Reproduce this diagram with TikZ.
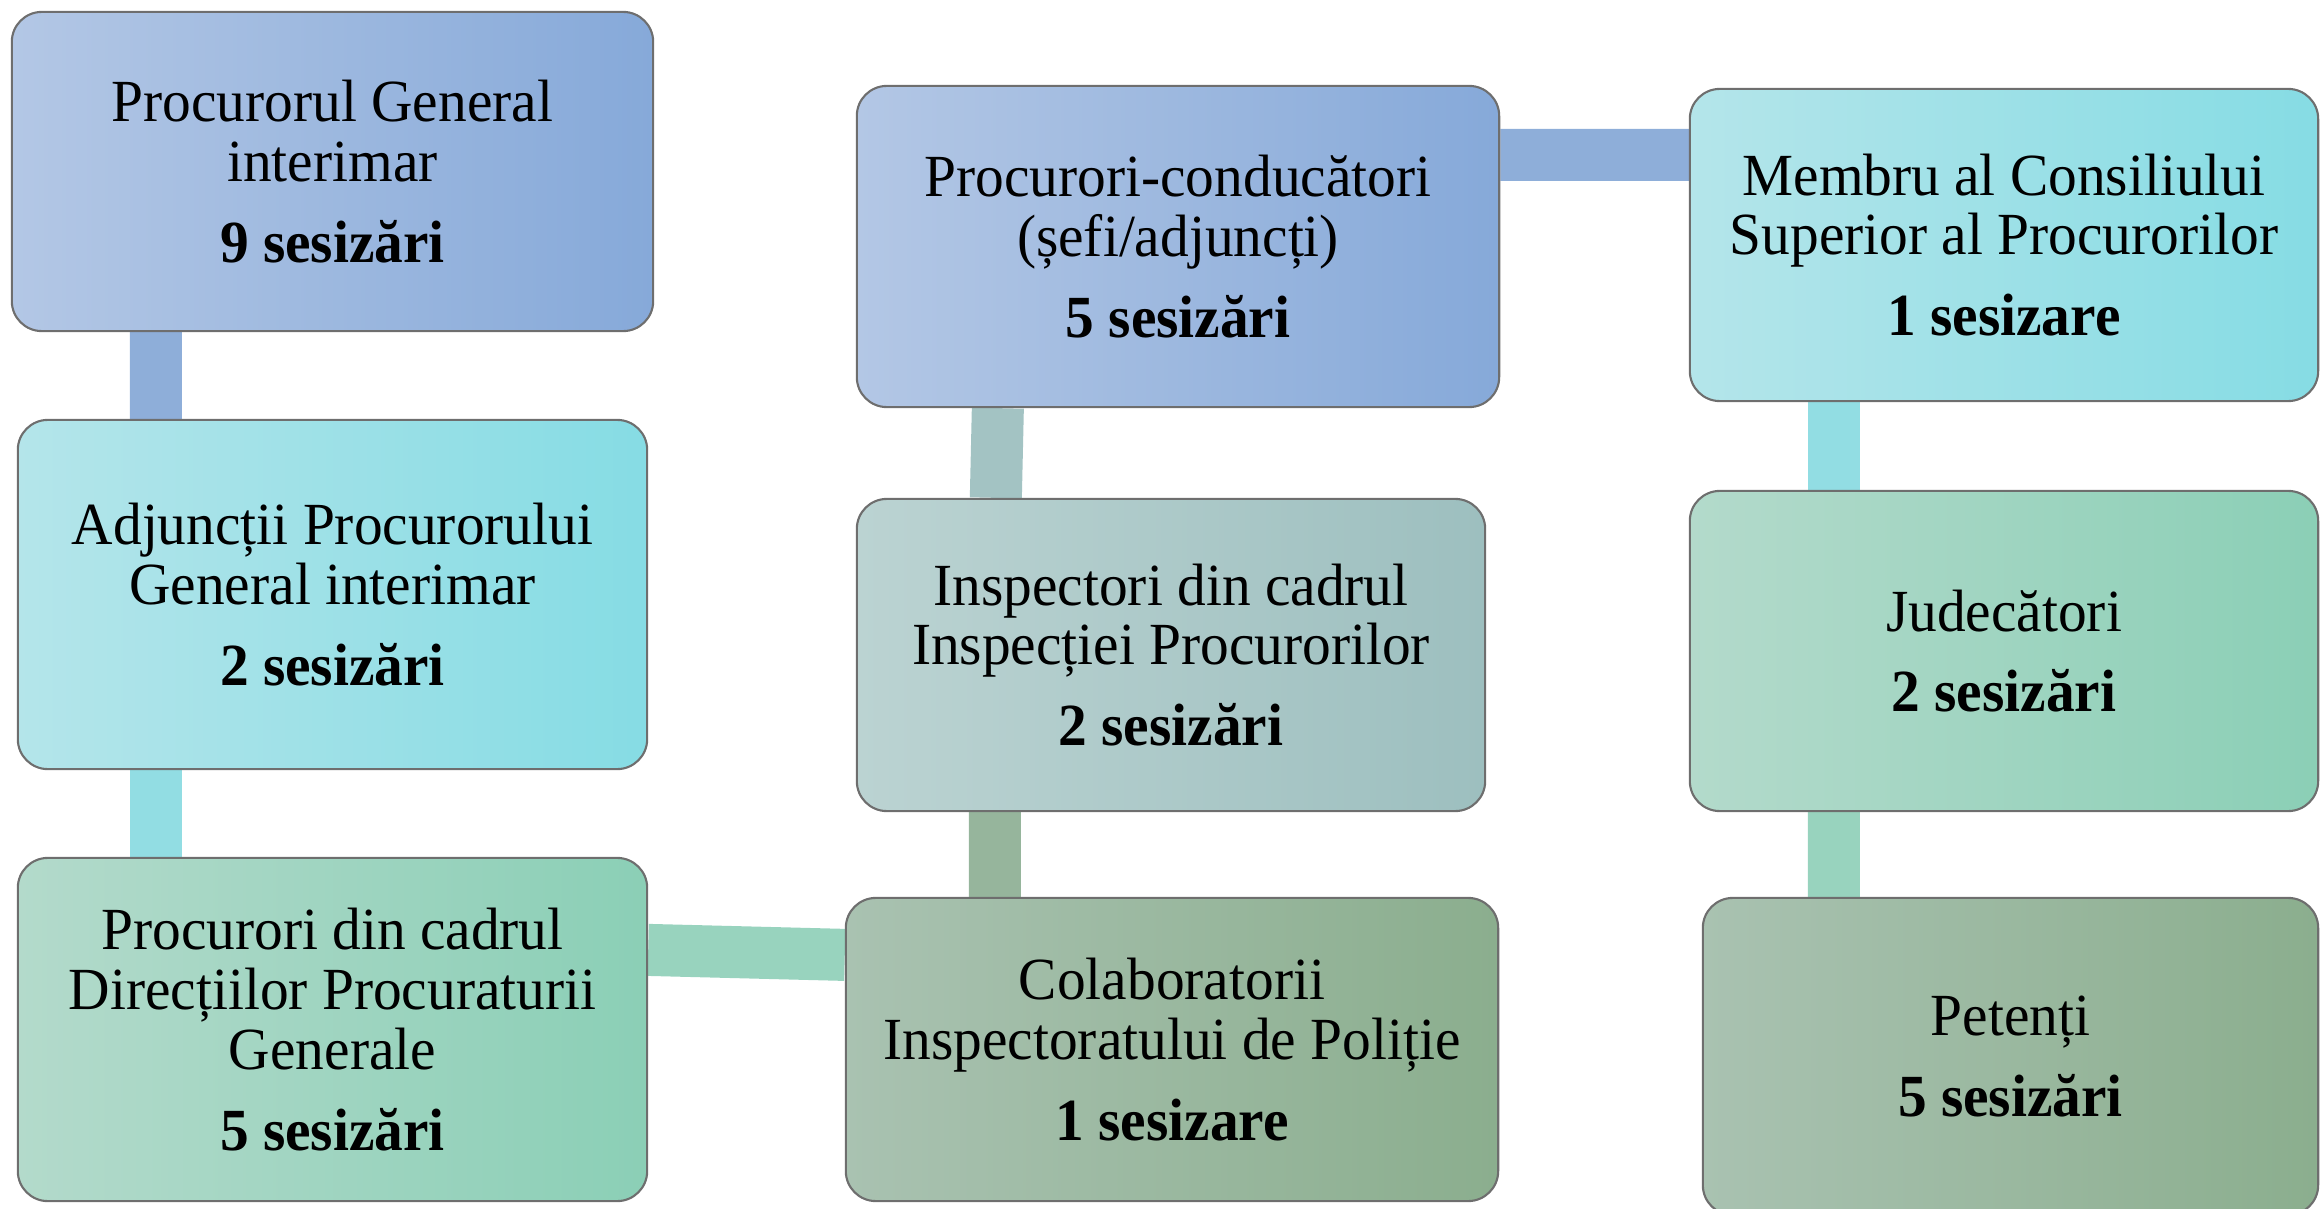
\documentclass[tikz,border=0pt]{standalone}
\usepackage{fontspec}
\setmainfont{Liberation Serif}[FakeStretch=0.96]
\usetikzlibrary{backgrounds}
\definecolor{blueL}{HTML}{B3C7E5}\definecolor{blueD}{HTML}{86A9D9}
\definecolor{cyanL}{HTML}{B4E5EA}\definecolor{cyanD}{HTML}{86DCE4}
\definecolor{mintL}{HTML}{B3DACB}\definecolor{mintD}{HTML}{8BCFB6}
\definecolor{tealL}{HTML}{BBD3D2}\definecolor{tealD}{HTML}{9DBFBF}
\definecolor{sageL}{HTML}{A9C2B1}\definecolor{sageD}{HTML}{8BAE8E}
\definecolor{cBlue}{HTML}{8EAED9}\definecolor{cCyan}{HTML}{92DDE3}
\definecolor{cMint}{HTML}{98D3BE}\definecolor{cTeal}{HTML}{A3C3C3}
\definecolor{cSage}{HTML}{96B59C}\definecolor{edgeC}{HTML}{6E6E6E}
\tikzset{
  card/.style={draw=edgeC, line width=0.6pt, rounded corners=0.3cm, align=center,
    inner sep=0pt, font=\fontsize{17pt}{17pt}\selectfont},
  cblue/.style={card, left color=blueL, right color=blueD},
  ccyan/.style={card, left color=cyanL, right color=cyanD},
  cmint/.style={card, left color=mintL, right color=mintD},
  cteal/.style={card, left color=tealL, right color=tealD},
  csage/.style={card, left color=sageL, right color=sageD},
  bar/.style={line width=0.52cm}
}
\begin{document}
\begin{tikzpicture}[x=0.01cm,y=-0.01cm]
\useasboundingbox (0,0) rectangle (2320,1209);
% boxes
\node[cblue, minimum width=6.41cm, minimum height=3.19cm] (b1) at (332.5,171.5)
  {Procurorul General\\ interimar\\[6pt] \textbf{9 sesizări}};
\node[ccyan, minimum width=6.29cm, minimum height=3.49cm] (b2) at (332.5,594.5)
  {Adjuncții Procurorului\\ General interimar\\[6pt] \textbf{2 sesizări}};
\node[cmint, minimum width=6.29cm, minimum height=3.43cm] (b3) at (332.5,1029.5)
  {Procurori din cadrul\\ Direcțiilor Procuraturii\\ Generale\\[6pt] \textbf{5 sesizări}};
\node[cblue, minimum width=6.42cm, minimum height=3.21cm] (b4) at (1178,246.5)
  {Procurori-conducători\\ (șefi/adjuncți)\\[6pt] \textbf{5 sesizări}};
\node[cteal, minimum width=6.28cm, minimum height=3.12cm] (b5) at (1171,655)
  {Inspectori din cadrul\\ Inspecției Procurorilor\\[6pt] \textbf{2 sesizări}};
\node[csage, minimum width=6.52cm, minimum height=3.03cm] (b6) at (1172,1049.5)
  {Colaboratorii\\ Inspectoratului de Poliție\\[6pt] \textbf{1 sesizare}};
\node[ccyan, minimum width=6.28cm, minimum height=3.12cm] (b7) at (2004,245)
  {Membru al Consiliului\\ Superior al Procurorilor\\[6pt] \textbf{1 sesizare}};
\node[cmint, minimum width=6.28cm, minimum height=3.20cm] (b8) at (2004,651)
  {Judecători\\[6pt] \textbf{2 sesizări}};
\node[csage, minimum width=6.15cm, minimum height=3.17cm] (b9) at (2010.5,1056.5)
  {Petenți\\[6pt] \textbf{5 sesizări}};
% connectors (behind boxes)
\begin{scope}[on background layer]
\draw[bar, cBlue] ([xshift=1.45cm]b1.south west) -- ([xshift=1.39cm]b2.north west);
\draw[bar, cCyan] ([xshift=1.39cm]b2.south west) -- ([xshift=1.39cm]b3.north west);
\draw[bar, cMint] ([yshift=-0.93cm]b3.north east) -- ([yshift=-0.58cm]b6.north west);
\draw[bar, cTeal] ([xshift=1.42cm]b4.south west) -- ([xshift=1.40cm]b5.north west);
\draw[bar, cSage] ([xshift=1.39cm]b5.south west) -- ([xshift=1.50cm]b6.north west);
\draw[bar, cBlue] ([yshift=-0.70cm]b4.north east) -- ([yshift=-0.67cm]b7.north west);
\draw[bar, cCyan] ([xshift=1.45cm]b7.south west) -- ([xshift=1.45cm]b8.north west);
\draw[bar, cMint] ([xshift=1.45cm]b8.south west) -- ([xshift=1.32cm]b9.north west);
\end{scope}
\end{tikzpicture}
\end{document}
